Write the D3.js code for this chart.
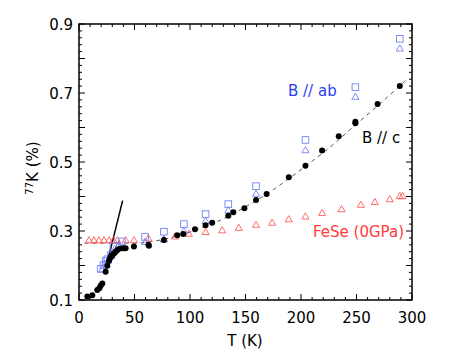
<!DOCTYPE html>
<meta charset='utf-8'>
<head>
    <title>77K vs T</title>
    <script src='https://cdn.jsdelivr.net/npm/d3@7'></script>
</head>

<style>
    body { margin: 0; background: white; }
    text { font-family: 'DejaVu Sans', sans-serif; }
    .frame { fill: none; stroke: black; stroke-width: 1.5px; }
    .tick { stroke: black; stroke-width: 1px; }
</style>

<svg></svg>

<script>
    var vWidth = 471;
    var vHeight = 364;

    // B // c (black filled circles)
    var cT = [7.5, 12, 16.5, 18.3, 19.5, 21, 24, 25.5, 27, 28, 28.8, 30, 31.5, 33, 34.5, 37, 40, 42, 49.5,
        62.5, 63, 76.5, 88.5, 94, 104.5, 114, 120, 134.5, 139, 149, 159.5, 169, 189, 204, 219, 234, 249, 249, 269, 289];
    var cK = [0.11, 0.114, 0.129, 0.134, 0.141, 0.148, 0.182, 0.199, 0.214, 0.221, 0.226, 0.230, 0.235, 0.240, 0.245, 0.249, 0.250, 0.250, 0.255,
        0.260, 0.257, 0.274, 0.288, 0.291, 0.305, 0.317, 0.324, 0.344, 0.354, 0.366, 0.390, 0.407, 0.456, 0.489, 0.533, 0.575, 0.617, 0.612, 0.668, 0.720];

    // B // ab squares
    var sqT = [19.5, 22, 24, 25.5, 28.5, 31, 38.5, 59.5, 76.5, 94.5, 114, 134.5, 159.5, 204, 249, 289];
    var sqK = [0.190, 0.201, 0.213, 0.218, 0.230, 0.255, 0.270, 0.283, 0.298, 0.320, 0.349, 0.378, 0.430, 0.564, 0.717, 0.857];

    // B // ab triangles
    var abT = [21, 23, 26, 29, 32, 36, 59.5, 76.5, 94.5, 114, 134.5, 159.5, 204, 249, 289];
    var abK = [0.190, 0.205, 0.215, 0.228, 0.248, 0.262, 0.269, 0.277, 0.301, 0.330, 0.361, 0.409, 0.535, 0.690, 0.830];

    // FeSe (0GPa) red triangles
    var feT = [9, 13.5, 18, 22.5, 27, 31, 34.5, 42, 49.5, 62.5, 76.5, 86.5, 99, 114, 129, 144, 159.5,
        174, 189, 204, 219, 236.5, 254, 266.5, 280, 289, 291.5];
    var feK = [0.274, 0.274, 0.274, 0.274, 0.274, 0.274, 0.274, 0.274, 0.274, 0.279, 0.277, 0.285, 0.293, 0.298, 0.303, 0.310, 0.319,
        0.325, 0.335, 0.343, 0.353, 0.364, 0.377, 0.385, 0.393, 0.402, 0.402];

    // guide lines
    var dashT = [5, 50, 75, 100, 125, 150, 175, 200, 225, 250, 275, 295];
    var dashK = [0.265, 0.265, 0.275, 0.297, 0.328, 0.370, 0.420, 0.478, 0.540, 0.610, 0.680, 0.738];
    var solidT = [23, 39.3];
    var solidK = [0.177, 0.388];

    var xTicks = [0, 50, 100, 150, 200, 250, 300];
    var yTicks = [0.1, 0.3, 0.5, 0.7, 0.9];

    var blue = '#6f82f5';
    var red = '#ff5a5a';

    var svg = d3.select('svg').attr('width', vWidth).attr('height', vHeight);

    var x = d3.scaleLinear().domain([0, 300]).range([79, 412]);
    var y = d3.scaleLinear().domain([0.1, 0.9]).range([300, 24]);

    function pts(ts, ks) { return ts.map(function(t, i) { return [t, ks[i]]; }); }

    // ticks (inward on all four sides)
    var g = svg.append('g');
    d3.range(0, 301, 10).forEach(function(t) {
        var len = t % 50 === 0 ? 6 : 3;
        g.append('line').attr('class', 'tick').attr('x1', x(t)).attr('x2', x(t)).attr('y1', 300).attr('y2', 300 - len);
        g.append('line').attr('class', 'tick').attr('x1', x(t)).attr('x2', x(t)).attr('y1', 24).attr('y2', 24 + len);
    });
    d3.range(0, 41).forEach(function(i) {
        var v = 0.1 + i * 0.02;
        var len = i % 5 === 0 ? 6 : 3;
        g.append('line').attr('class', 'tick').attr('y1', y(v)).attr('y2', y(v)).attr('x1', 79).attr('x2', 79 + len);
        g.append('line').attr('class', 'tick').attr('y1', y(v)).attr('y2', y(v)).attr('x1', 412).attr('x2', 412 - len);
    });

    svg.append('rect').attr('class', 'frame')
        .attr('x', 79).attr('y', 24).attr('width', 333).attr('height', 276);

    // tick labels
    svg.selectAll('.xl').data(xTicks).enter().append('text')
        .attr('x', function(d) { return x(d); }).attr('y', 323)
        .attr('text-anchor', 'middle').attr('font-size', 15).text(function(d) { return d; });
    svg.selectAll('.yl').data(yTicks).enter().append('text')
        .attr('x', 73).attr('y', function(d) { return y(d) + 5.5; })
        .attr('text-anchor', 'end').attr('font-size', 15).text(function(d) { return d.toFixed(1); });

    svg.append('text').attr('x', 245).attr('y', 346).attr('text-anchor', 'middle')
        .attr('font-size', 15).text('T (K)');
    var yl = svg.append('text').attr('transform', 'translate(38,168) rotate(-90)')
        .attr('text-anchor', 'middle').attr('font-size', 15);
    yl.append('tspan').attr('font-size', 10).attr('dy', -5).text('77');
    yl.append('tspan').attr('dy', 5).text('K (%)');

    // lines
    var line = d3.line().x(function(d) { return x(d[0]); }).y(function(d) { return y(d[1]); });
    svg.append('path').datum(pts(dashT, dashK)).attr('d', line.curve(d3.curveMonotoneX))
        .attr('fill', 'none').attr('stroke', '#555').attr('stroke-width', 1).attr('stroke-dasharray', '4,4');
    svg.append('path').datum(pts(solidT, solidK)).attr('d', d3.line().x(function(d) { return x(d[0]); }).y(function(d) { return y(d[1]); }))
        .attr('fill', 'none').attr('stroke', 'black').attr('stroke-width', 1.5);

    var tri = d3.symbol().type(d3.symbolTriangle).size(22);

    svg.selectAll('.fe').data(pts(feT, feK)).enter().append('path')
        .attr('d', tri).attr('fill', 'none').attr('stroke', red).attr('stroke-width', 0.9)
        .attr('transform', function(d) { return 'translate(' + x(d[0]) + ',' + (y(d[1]) + 0.8) + ')'; });

    svg.selectAll('.sq').data(pts(sqT, sqK)).enter().append('rect')
        .attr('x', function(d) { return x(d[0]) - 3.3; }).attr('y', function(d) { return y(d[1]) - 3.3; })
        .attr('width', 6.6).attr('height', 6.6)
        .attr('fill', 'none').attr('stroke', blue).attr('stroke-width', 0.9);

    svg.selectAll('.ab').data(pts(abT, abK)).enter().append('path')
        .attr('d', tri).attr('fill', 'none').attr('stroke', blue).attr('stroke-width', 0.9)
        .attr('transform', function(d) { return 'translate(' + x(d[0]) + ',' + (y(d[1]) + 0.8) + ')'; });

    svg.selectAll('.c').data(pts(cT, cK)).enter().append('circle')
        .attr('cx', function(d) { return x(d[0]); }).attr('cy', function(d) { return y(d[1]); })
        .attr('r', 3).attr('fill', 'black');

    // labels
    svg.append('text').attr('x', 288).attr('y', 96).attr('font-size', 15).attr('fill', '#2b3df2').text('B // ab');
    svg.append('text').attr('x', 362).attr('y', 143).attr('font-size', 15).attr('fill', 'black').text('B // c');
    svg.append('text').attr('x', 313).attr('y', 237).attr('font-size', 15).attr('fill', '#ff3a3a').text('FeSe (0GPa)');
</script>
